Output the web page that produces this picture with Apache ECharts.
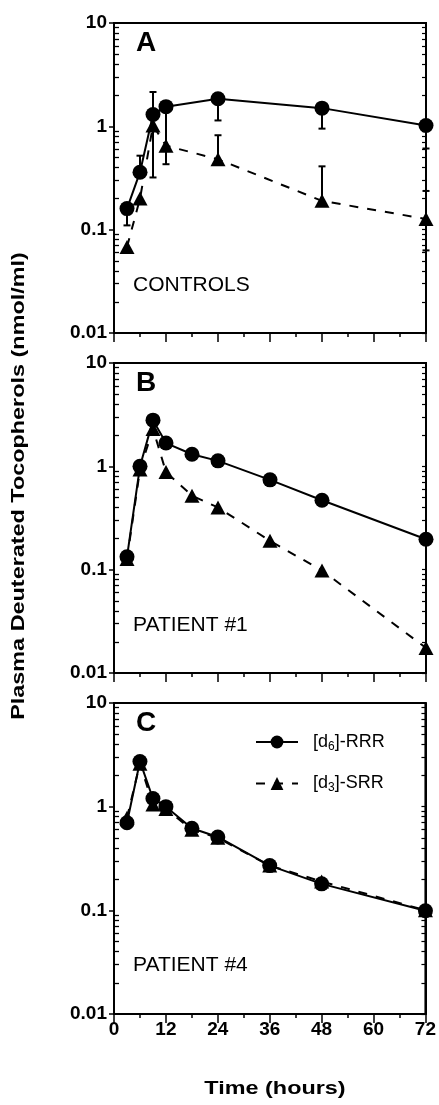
<!DOCTYPE html>
<html>
<head>
<meta charset="utf-8">
<script src="https://cdn.jsdelivr.net/npm/echarts@6/dist/echarts.min.js"></script>
<style>
  html, body { margin: 0; padding: 0; background: #fff; }
  #chart { width: 439px; height: 1105px; }
</style>
</head>
<body>
<div id="chart"></div>
<script>
  // sampling times (hours)
  const hoursControls = [3, 6, 9, 12, 24, 48, 72]
  const hoursPatients = [3, 6, 9, 12, 18, 24, 36, 48, 72]

  // A - controls (mean with one-sided SD bars)
  const controlsRRR = [0.16, 0.36, 1.3, 1.55, 1.85, 1.5, 1.02]
  const controlsSRR = [0.068, 0.2, 1.02, 0.65, 0.48, 0.19, 0.127]
  const controlsRRRLow = [0.11, null, 0.32, 0.43, 1.14, 0.95, 0.61]
  const controlsRRRHigh = [null, 0.52, 2.15, null, null, null, null]
  const controlsSRRLow = [null, null, null, null, null, null, 0.063]
  const controlsSRRHigh = [null, null, null, null, 0.82, 0.41, 0.237]

  // B - patient #1
  const patient1RRR = [0.133, 1.0, 2.8, 1.68, 1.31, 1.13, 0.74, 0.47, 0.197]
  const patient1SRR = [0.127, 0.93, 2.3, 0.88, 0.52, 0.4, 0.19, 0.098, 0.0175]

  // C - patient #4
  const patient4RRR = [0.7, 2.73, 1.2, 1.0, 0.62, 0.51, 0.27, 0.18, 0.099]
  const patient4SRR = [0.78, 2.6, 1.05, 0.95, 0.6, 0.5, 0.27, 0.19, 0.1]

  const yTickLabels = ['0.01', '0.1', '1', '10']
  const yDecades = [0.01, 0.1, 1]
  // log minor tick positions 2..9 within each decade
  const yMinorTicks = []
  yDecades.forEach(d => { for (let m = 2; m <= 9; m++) yMinorTicks.push(+(m * d).toPrecision(3)) })

  const font = '"Liberation Sans", Arial, Helvetica, sans-serif'
  const chart = echarts.init(document.getElementById('chart'), null, { renderer: 'canvas' })

  const panels = [
    { top: 23, height: 310, hours: hoursControls, rrr: controlsRRR, srr: controlsSRR, letter: 'A', caption: 'CONTROLS' },
    { top: 363, height: 310, hours: hoursPatients, rrr: patient1RRR, srr: patient1SRR, letter: 'B', caption: 'PATIENT #1' },
    { top: 703, height: 311, hours: hoursPatients, rrr: patient4RRR, srr: patient4SRR, letter: 'C', caption: 'PATIENT #4' }
  ]

  const black = '#000'
  const grids = []
  const xAxes = []
  const yAxes = []
  const series = []
  const graphics = []

  panels.forEach((p, i) => {
    grids.push({
      left: 114, top: p.top, width: 312, height: p.height,
      show: true, borderColor: black, borderWidth: 2, backgroundColor: 'transparent'
    })
    xAxes.push({
      gridIndex: i, type: 'value', min: 0, max: 72, interval: 12,
      axisLine: { lineStyle: { color: black, width: 2 } },
      axisTick: { length: 9, lineStyle: { color: black, width: 1.5 } },
      minorTick: { show: true, splitNumber: 2, length: 4, lineStyle: { color: black, width: 1.5 } },
      splitLine: { show: false },
      axisLabel: {
        show: i === 2, margin: 6, color: black,
        fontFamily: font, fontWeight: 'bold', fontSize: 19
      }
    })
    const logBase = { gridIndex: i, type: 'log', logBase: 10, min: 0.01, max: 10, splitLine: { show: false } }
    // left axis with labels and outward major ticks
    yAxes.push(Object.assign({}, logBase, {
      position: 'left',
      axisLine: { show: true, lineStyle: { color: black, width: 2 } },
      axisTick: { length: 5, lineStyle: { color: black, width: 1.5 } },
      axisLabel: {
        margin: 7, color: black, fontFamily: font, fontWeight: 'bold', fontSize: 19,
        formatter: v => yTickLabels[Math.round(Math.log10(v)) + 2]
      }
    }))
    // left inner minor ticks
    yAxes.push(Object.assign({}, logBase, {
      position: 'left',
      axisLine: { show: false },
      axisTick: { show: true, inside: true, length: 5, customValues: yMinorTicks, lineStyle: { color: black, width: 1.3 } },
      axisLabel: { show: false }
    }))
    // right side ticks
    yAxes.push(Object.assign({}, logBase, {
      position: 'right',
      axisLine: { show: true, lineStyle: { color: black, width: 2 } },
      axisTick: { show: true, inside: true, length: 4, customValues: yMinorTicks.concat(yDecades), lineStyle: { color: black, width: 1.2 } },
      axisLabel: { show: false }
    }))

    series.push({
      name: 'RRR', type: 'line', xAxisIndex: i, yAxisIndex: 3 * i,
      data: p.hours.map((h, k) => [h, p.rrr[k]]),
      symbol: 'circle', symbolSize: 15,
      itemStyle: { color: black },
      lineStyle: { color: black, width: 2 },
      z: 3
    })
    series.push({
      name: 'SRR', type: 'line', xAxisIndex: i, yAxisIndex: 3 * i,
      data: p.hours.map((h, k) => [h, p.srr[k]]),
      symbol: 'triangle', symbolSize: [15, 14],
      itemStyle: { color: black },
      lineStyle: { color: black, width: 2, type: [9, 9] },
      z: i === 2 ? 2 : 4
    })

    graphics.push({
      type: 'text', left: 136, top: p.top + 6,
      style: { text: p.letter, font: 'bold 28px ' + font, fill: black }
    })
    graphics.push({
      type: 'text', left: 133, top: p.top + 252,
      style: { text: p.caption, font: '21px ' + font, fill: black }
    })
  })

  // error bars for the controls panel: [hour, mean, bar end]
  const errorBars = []
  hoursControls.forEach((h, k) => {
    if (controlsRRRLow[k] != null) errorBars.push([h, controlsRRR[k], controlsRRRLow[k]])
    if (controlsRRRHigh[k] != null) errorBars.push([h, controlsRRR[k], controlsRRRHigh[k]])
    if (controlsSRRLow[k] != null) errorBars.push([h, controlsSRR[k], controlsSRRLow[k]])
    if (controlsSRRHigh[k] != null) errorBars.push([h, controlsSRR[k], controlsSRRHigh[k]])
  })
  series.push({
    type: 'custom', xAxisIndex: 0, yAxisIndex: 0, z: 1,
    data: errorBars,
    encode: { x: 0, y: [1, 2] },
    renderItem: (params, api) => {
      const p0 = api.coord([api.value(0), api.value(1)])
      const p1 = api.coord([api.value(0), api.value(2)])
      const w = 3.5
      return {
        type: 'group',
        children: [
          { type: 'line', shape: { x1: p0[0], y1: p0[1], x2: p1[0], y2: p1[1] }, style: { stroke: black, lineWidth: 2 } },
          { type: 'line', shape: { x1: p1[0] - w, y1: p1[1], x2: p1[0] + w, y2: p1[1] }, style: { stroke: black, lineWidth: 2 } }
        ]
      }
    }
  })

  graphics.push({
    type: 'text', x: 19, y: 486, rotation: Math.PI / 2, scaleX: 1.3,
    style: {
      text: 'Plasma Deuterated Tocopherols (nmol/ml)', font: 'bold 18px ' + font, fill: black,
      textAlign: 'center', textVerticalAlign: 'middle', align: 'center', verticalAlign: 'middle'
    }
  })
  graphics.push({
    type: 'text', x: 275, y: 1089, scaleX: 1.3,
    style: {
      text: 'Time (hours)', font: 'bold 18px ' + font, fill: black,
      textAlign: 'center', textVerticalAlign: 'middle', align: 'center', verticalAlign: 'middle'
    }
  })

  const option = {
    animation: false,
    backgroundColor: '#fff',
    grid: grids,
    xAxis: xAxes,
    yAxis: yAxes,
    legend: {
      data: ['RRR', 'SRR'],
      orient: 'vertical',
      left: 250, top: 728,
      itemWidth: 42, itemHeight: 16, itemGap: 22,
      formatter: name => name === 'RRR' ? '[d{sub|6}]-RRR' : '[d{sub|3}]-SRR',
      textStyle: {
        color: black, fontFamily: font, fontSize: 18, padding: [0, 0, 0, 10],
        rich: { sub: { fontFamily: font, fontSize: 12, padding: [9, 0, 0, 0], verticalAlign: 'bottom' } }
      }
    },
    graphic: graphics,
    series
  }

  chart.setOption(option)
</script>
</body>
</html>
